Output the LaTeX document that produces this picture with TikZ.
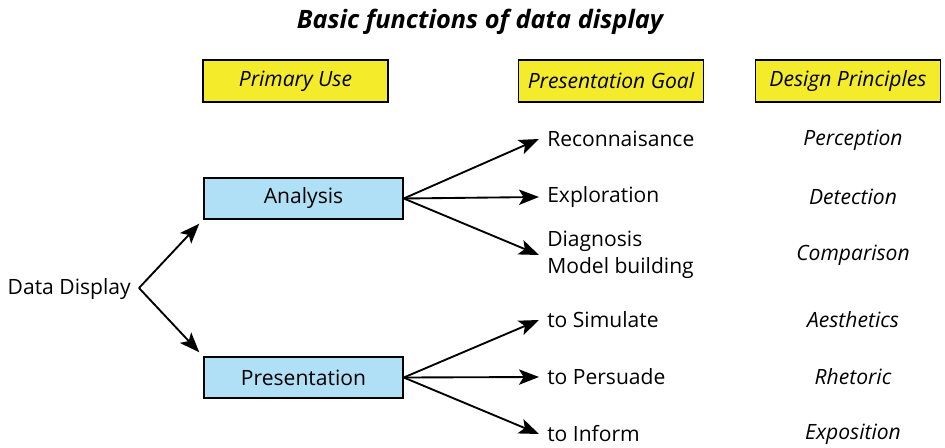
\documentclass[tikz,border=0pt]{standalone}
\usepackage{fontspec}
\setmainfont{Open Sans}
\usetikzlibrary{arrows.meta}
\definecolor{headyellow}{RGB}{244,236,42}
\definecolor{useblue}{RGB}{176,224,246}
\begin{document}
\begin{tikzpicture}[x=0.75pt,y=-0.75pt,
  font=\fontsize{15.8pt}{20pt}\selectfont,
  >={Stealth[length=15pt,width=11.5pt,inset=3.5pt]},
  headbox/.style={draw, line width=1.1pt, fill=headyellow, minimum width=138.75pt, minimum height=31.5pt, font=\fontsize{15.8pt}{20pt}\selectfont\itshape},
  usebox/.style={draw, line width=1.1pt, fill=useblue, minimum width=149.25pt, minimum height=30.75pt},
  goal/.style={anchor=west, inner sep=0pt, align=left},
  principle/.style={font=\fontsize{15.8pt}{20pt}\selectfont\itshape},
  link/.style={->, line width=1.4pt}]
\useasboundingbox (0,0) rectangle (945,448);

\node[font=\fontsize{19pt}{22pt}\selectfont\bfseries\itshape] (title) at (480,22) {Basic functions of data display};

% column heads
\node[headbox] (use) at (295.5,81) {Primary Use};
\node[headbox] (goalhead) at (611,81) {Presentation Goal};
\node[headbox] (princhead) at (848,81) {Design Principles};

% left part
\node[anchor=east, inner sep=0pt] (display) at (131,289) {Data Display};
\coordinate (tip) at (139,288);
\node[usebox] (analysis) at (303.5,198.5) {Analysis};
\node[usebox] (presentation) at (303.5,377.5) {Presentation};

% goals
\node[goal] (recon) at (547,139) {Reconnaisance};
\node[goal] (explore) at (547,197) {Exploration};
\node[goal] (diagnose) at (547,255) {Diagnosis\\Model building};
\node[goal] (simulate) at (547,320) {to Simulate};
\node[goal] (persuade) at (547,377) {to Persuade};
\node[goal] (inform) at (547,434) {to Inform};

% principles
\node[principle] (perception) at (853,140) {Perception};
\node[principle] (detection) at (853,197) {Detection};
\node[principle] (comparison) at (853,255) {Comparison};
\node[principle] (aesthetics) at (853,320) {Aesthetics};
\node[principle] (rhetoric) at (853,377) {Rhetoric};
\node[principle] (exposition) at (853,434) {Exposition};

\draw[link] (tip) -- ([shift={(-4,4)}]analysis.south west);
\draw[link] (tip) -- ([shift={(-4,-4)}]presentation.north west);

\draw[link] (analysis.east) -- ([xshift=-6]recon.west);
\draw[link] (analysis.east) -- ([xshift=-6]explore.west);
\draw[link] (analysis.east) -- ([xshift=-6]diagnose.west);

\draw[link] (presentation.east) -- ([xshift=-6]simulate.west);
\draw[link] (presentation.east) -- ([xshift=-6]persuade.west);
\draw[link] (presentation.east) -- ([xshift=-6]inform.west);
\end{tikzpicture}
\end{document}
